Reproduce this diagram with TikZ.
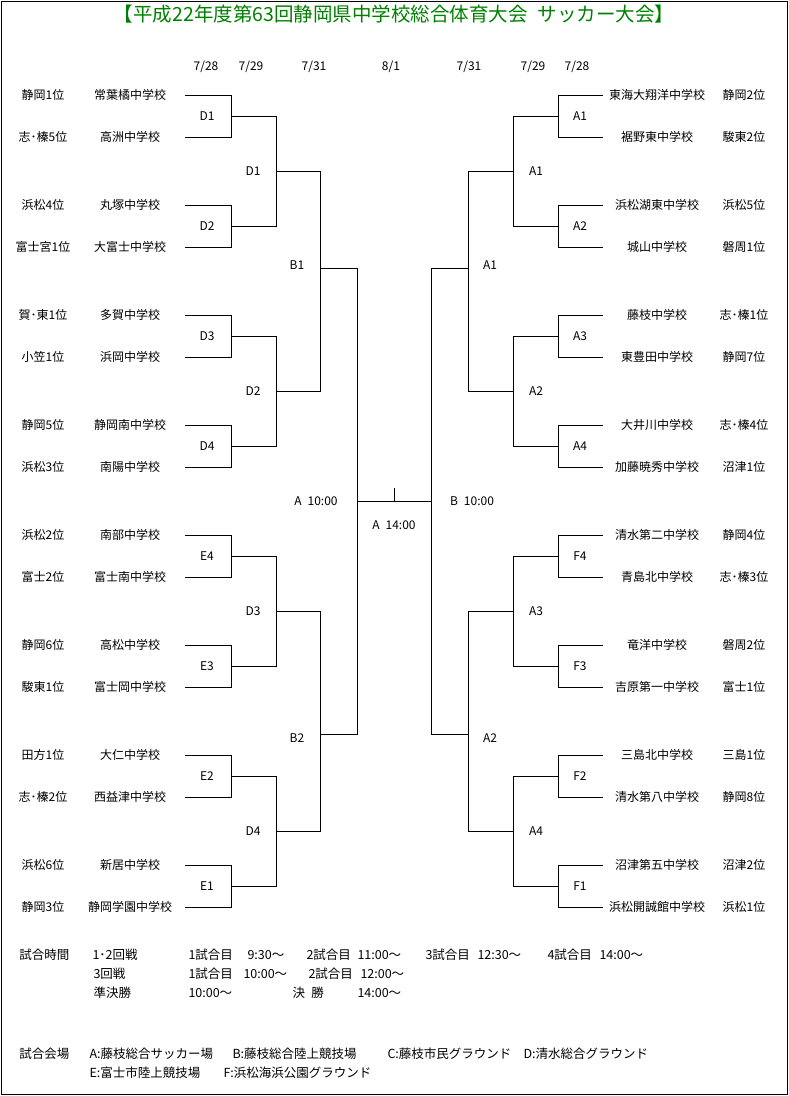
\documentclass[tikz,border=0pt]{standalone}
\usepackage{fontspec}
\setmainfont{Noto Sans CJK JP}
\definecolor{titlegreen}{RGB}{0,128,0}
\begin{document}
\begin{tikzpicture}[x=1pt, y=-1pt, line width=1pt,
  every node/.style={inner sep=0pt, font=\fontsize{12}{14}\selectfont},
  info/.style={anchor=west, font=\fontsize{12.5}{14}\selectfont}]

\useasboundingbox (0,0) rectangle (789,1096);
\draw (1,1) rectangle (787,1094);

\node[text=titlegreen, font=\fontsize{19.5}{22}\selectfont] (title) at (394,14)
  {【平成22年度第63回静岡県中学校総合体育大会\enspace サッカー大会】};

% dates of each round
\node (d1) at (206,67) {7/28};
\node (d2) at (251,67) {7/29};
\node (d3) at (314,67) {7/31};
\node (d4) at (391,67) {8/1};
\node (d5) at (469,67) {7/31};
\node (d6) at (533,67) {7/29};
\node (d7) at (577,67) {7/28};

% left half teams
\foreach \sch/\rk [count=\i from 0] in {常葉橘中学校/静岡1位, 高洲中学校/志･榛5位,
    丸塚中学校/浜松4位, 大富士中学校/富士宮1位, 多賀中学校/賀･東1位, 浜岡中学校/小笠1位,
    静岡南中学校/静岡5位, 南陽中学校/浜松3位, 南部中学校/浜松2位, 富士南中学校/富士2位,
    高松中学校/静岡6位, 富士岡中学校/駿東1位, 大仁中学校/田方1位, 西益津中学校/志･榛2位,
    新居中学校/浜松6位, 静岡学園中学校/静岡3位}
{
  \pgfmathsetmacro\ty{95+110*floor(\i/2)+42*mod(\i,2)}
  \node (Lrk\i) at (43,\ty) {\rk};
  \node (Lsc\i) at (130,\ty) {\sch};
  \coordinate (Lt\i) at (185,\ty);
}

% right half teams
\foreach \sch/\rk [count=\i from 0] in {東海大翔洋中学校/静岡2位, 裾野東中学校/駿東2位,
    浜松湖東中学校/浜松5位, 城山中学校/磐周1位, 藤枝中学校/志･榛1位, 東豊田中学校/静岡7位,
    大井川中学校/志･榛4位, 加藤暁秀中学校/沼津1位, 清水第二中学校/静岡4位, 青島北中学校/志･榛3位,
    竜洋中学校/磐周2位, 吉原第一中学校/富士1位, 三島北中学校/三島1位, 清水第八中学校/静岡8位,
    沼津第五中学校/沼津2位, 浜松開誠館中学校/浜松1位}
{
  \pgfmathsetmacro\ty{95+110*floor(\i/2)+42*mod(\i,2)}
  \node (Rsc\i) at (657,\ty) {\sch};
  \node (Rrk\i) at (744,\ty) {\rk};
  \coordinate (Rt\i) at (603,\ty);
}

% first round
\foreach \lm/\rm [count=\j from 0] in {D1/A1, D2/A2, D3/A3, D4/A4, E4/F4, E3/F3, E2/F2, E1/F1}
{
  \pgfmathsetmacro\jy{116+110*\j}
  \pgfmathtruncatemacro\a{2*\j}
  \pgfmathtruncatemacro\b{2*\j+1}
  \coordinate (La\j) at (231,\jy);
  \coordinate (Ra\j) at (558,\jy);
  \draw (Lt\a) -| (La\j) (Lt\b) -| (La\j);
  \draw (Rt\a) -| (Ra\j) (Rt\b) -| (Ra\j);
  \node (Lm\j) at (207,\jy) {\lm};
  \node (Rm\j) at (580,\jy) {\rm};
}

% second round
\foreach \lm/\rm [count=\k from 0] in {D1/A1, D2/A2, D3/A3, D4/A4}
{
  \pgfmathsetmacro\ky{171+220*\k}
  \pgfmathtruncatemacro\a{2*\k}
  \pgfmathtruncatemacro\b{2*\k+1}
  \coordinate (Lb\k) at (276,\ky);
  \coordinate (Rb\k) at (513,\ky);
  \draw (La\a) -| (Lb\k) (La\b) -| (Lb\k);
  \draw (Ra\a) -| (Rb\k) (Ra\b) -| (Rb\k);
  \node (Ln\k) at (253,\ky) {\lm};
  \node (Rn\k) at (536,\ky) {\rm};
}

% third round
\coordinate (Lc0) at (320,268);
\coordinate (Lc1) at (320,734);
\coordinate (Rc0) at (468,268);
\coordinate (Rc1) at (468,734);
\draw (Lb0) -| (Lc0) (Lb1) -| (Lc0) (Lb2) -| (Lc1) (Lb3) -| (Lc1);
\draw (Rb0) -| (Rc0) (Rb1) -| (Rc0) (Rb2) -| (Rc1) (Rb3) -| (Rc1);
\node (B1) at (297,265) {B1};
\node (B2) at (297,738) {B2};
\node (A1) at (490,265) {A1};
\node (A2) at (490,738) {A2};

% semi finals and final
\coordinate (FL) at (357,501);
\coordinate (FR) at (431,501);
\coordinate (Ftop) at (394,488);
\draw (Lc0) -| (FL) (Lc1) -| (FL);
\draw (Rc0) -| (FR) (Rc1) -| (FR);
\draw (FL) -- (FR);
\draw (Ftop) -- (Ftop |- FL);
\node (semiA) at (316,501) {A\enspace 10:00};
\node (semiB) at (472,501) {B\enspace 10:00};
\node (final) at (394,525) {A\enspace 14:00};

% match times
\node[info] (t0) at (19,955) {試合時間};
\node[info] (t1) at (92,955) {1･2回戦};
\node[info] at (188,955) {1試合目};
\node[info] at (247,955) {9:30～};
\node[info] at (306,955) {2試合目};
\node[info] at (357,955) {11:00～};
\node[info] at (425,955) {3試合目};
\node[info] at (477,955) {12:30～};
\node[info] at (547,955) {4試合目};
\node[info] at (599,955) {14:00～};
\node[info] (t2) at (93,974) {3回戦};
\node[info] at (188,974) {1試合目};
\node[info] at (243,974) {10:00～};
\node[info] at (308,974) {2試合目};
\node[info] at (360,974) {12:00～};
\node[info] (t3) at (93,993) {準決勝};
\node[info] at (188,993) {10:00～};
\node[info] at (292,993) {決\enspace 勝};
\node[info] at (357,993) {14:00～};

% grounds
\node[info] (g0) at (19,1054) {試合会場};
\node[info] (gA) at (89,1054) {A:藤枝総合サッカー場};
\node[info] (gB) at (232,1054) {B:藤枝総合陸上競技場};
\node[info] (gC) at (387,1054) {C:藤枝市民グラウンド};
\node[info] (gD) at (523,1054) {D:清水総合グラウンド};
\node[info] (gE) at (89,1073) {E:富士市陸上競技場};
\node[info] (gF) at (223,1073) {F:浜松海浜公園グラウンド};
\end{tikzpicture}
\end{document}
